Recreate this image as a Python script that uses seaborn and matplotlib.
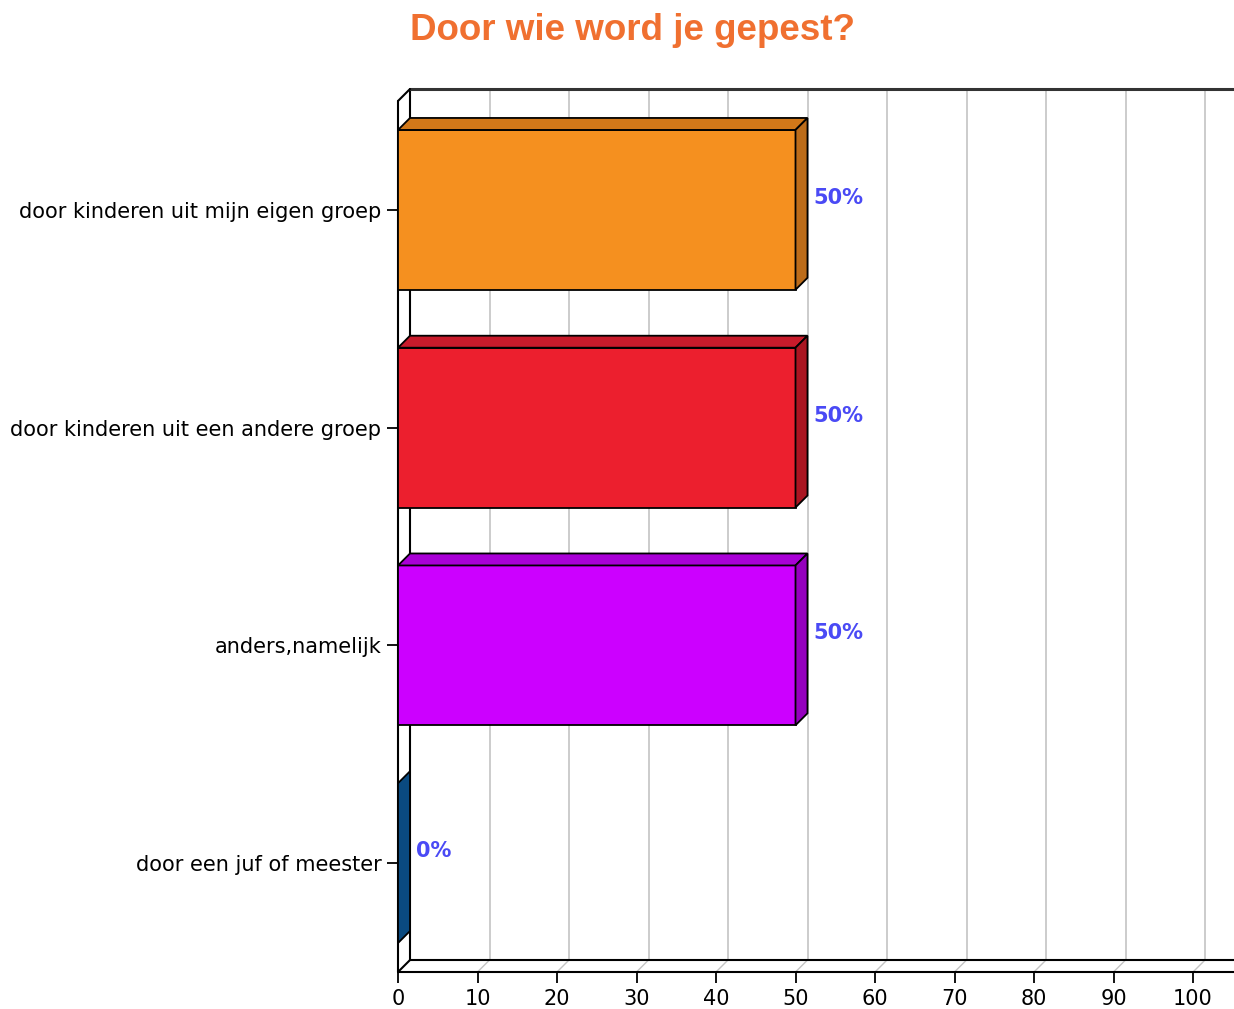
import matplotlib
matplotlib.use("Agg")
import matplotlib.pyplot as plt
import seaborn as sns
import pandas as pd
from matplotlib.patches import Polygon

# ---------------------------------------------------------------------------
# Data
# ---------------------------------------------------------------------------
categories = [
    "door kinderen uit mijn eigen groep",
    "door kinderen uit een andere groep",
    "anders,namelijk",
    "door een juf of meester",
]
percentages = [50, 50, 50, 0]
front_colors = ["#F5901F", "#EC1F2E", "#CC00FF", "#0B4C85"]
top_colors = ["#D27819", "#C81B2B", "#A900D6", "#0A416F"]
side_colors = ["#BC6C1A", "#AA1521", "#9500BE", "#0A4A80"]
x_ticks = list(range(0, 101, 10))

TITLE = "Door wie word je gepest?"
TITLE_COLOR = "#F07030"
LABEL_COLOR = "#4A4AF5"

# fake depth of the 3D look, in data units
DX = 12 / 7.95
DY = 12 / 218
XMAX = 836 / 7.95

sns.set_style("white")
plt.rcParams["font.family"] = ["DejaVu Sans"]

fig = plt.figure(figsize=(12.34, 10.09), dpi=100)
ax = fig.add_axes([398 / 1234, 37 / 1009, 836 / 1234, 883 / 1009])

df = pd.DataFrame({"cat": categories, "pct": percentages})
sns.barplot(data=df, x="pct", y="cat", hue="cat", palette=front_colors,
            saturation=1, orient="h", width=0.734, edgecolor="black",
            linewidth=1.3, legend=False, ax=ax, zorder=3)

ax.set_xlim(0, XMAX)
ax.set_ylim(3.5, -0.5 - DY)
for s in ax.spines.values():
    s.set_visible(False)

y_bot, y_top = 3.5, -0.5

# grid lines on the back wall plus their floor diagonals
for t in x_ticks[1:]:
    ax.plot([t + DX, t + DX], [y_bot - DY, y_top - DY], color="#C4C4C4", lw=1.2, zorder=1)
    ax.plot([t, t + DX], [y_bot, y_bot - DY], color="#C4C4C4", lw=1.0, zorder=1)

# frame of the box
line_kw = dict(color="black", lw=1.5, zorder=2, clip_on=False)
ax.plot([DX, DX], [y_bot - DY, y_top - DY], **line_kw)
ax.plot([DX, XMAX], [y_top - DY, y_top - DY], color="#333333", lw=2.2, zorder=2, clip_on=False)
ax.plot([DX, XMAX], [y_bot - DY, y_bot - DY], **line_kw)
ax.plot([0, 0], [y_bot, y_top], **line_kw)
ax.plot([0, XMAX], [y_bot, y_bot], **line_kw)
ax.plot([0, DX], [y_top, y_top - DY], **line_kw)
ax.plot([0, DX], [y_bot, y_bot - DY], **line_kw)

# top and side faces for each bar
bars = [p for p in ax.patches if p.get_height() > 0]
for bar, pct, tc, sc in zip(bars, percentages, top_colors, side_colors):
    x0 = bar.get_x()
    x1 = x0 + bar.get_width()
    ya = bar.get_y()
    yb = ya + bar.get_height()
    y_hi, y_lo = min(ya, yb), max(ya, yb)
    if pct > 0:
        top = Polygon([(x0, y_hi), (x0 + DX, y_hi - DY), (x1 + DX, y_hi - DY), (x1, y_hi)],
                      closed=True, facecolor=tc, edgecolor="black", lw=1.3, zorder=4)
        ax.add_patch(top)
    else:
        bar.set_visible(False)
    side = Polygon([(x1, y_hi), (x1 + DX, y_hi - DY), (x1 + DX, y_lo - DY), (x1, y_lo)],
                   closed=True, facecolor=sc, edgecolor="black", lw=1.3, zorder=4)
    ax.add_patch(side)
    ax.text(x1 + DX + 0.8, (y_hi + y_lo) / 2 - 0.055, f"{pct}%", color=LABEL_COLOR,
            fontsize=15, fontweight="bold", ha="left", va="center", zorder=5)

ax.set_xticks(x_ticks)
ax.set_xticklabels([str(t) for t in x_ticks])
ax.tick_params(axis="x", length=8, width=1.3, color="black", labelcolor="black",
               labelsize=15, pad=4, bottom=True)
ax.tick_params(axis="y", length=8, width=1.3, color="black", labelcolor="black",
               labelsize=15, pad=4, left=True)
ax.set_xlabel("")
ax.set_ylabel("")

fig.text(632 / 1234, 1 - 30 / 1009, TITLE, color=TITLE_COLOR, fontsize=26.5,
         fontweight="bold", ha="center", va="center",
         family=["Liberation Sans", "DejaVu Sans"])

fig.savefig("out.png", dpi=100)
